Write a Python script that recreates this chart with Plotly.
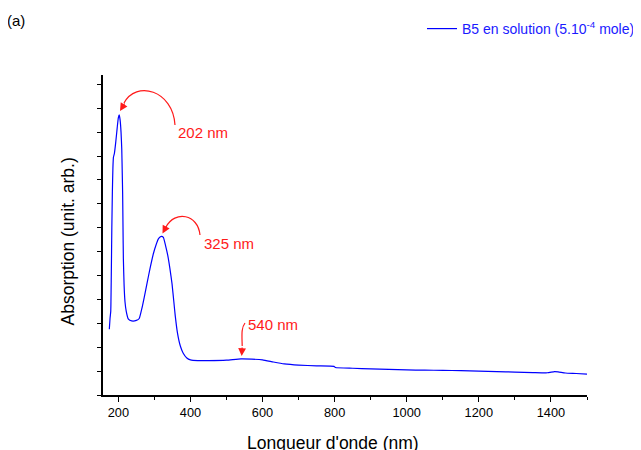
import plotly.graph_objects as go

# ---- data ----
wavelength = [175, 177, 179, 180.5, 182, 183.5, 185, 186.5, 189, 193, 197, 200, 202.5, 205,
              207.5, 209.5, 211, 212, 213, 214, 216, 218.5, 222, 228, 237, 250, 258, 265,
              272, 280, 288, 297, 305, 312, 319, 325, 331, 337, 343, 349, 354, 358, 364,
              372, 380, 390, 400, 420, 450, 500, 540, 570, 600, 630, 660, 700, 750, 798,
              802, 850, 900, 950, 1000, 1050, 1100, 1150, 1200, 1250, 1300, 1350, 1390,
              1410, 1420, 1440, 1470, 1500]
absorption = [2.75, 3.2, 3.5, 5.0, 7.0, 8.5, 9.5, 9.95, 10.1, 10.6, 11.2, 11.6, 11.72, 11.5,
              11.0, 10.3, 9.2, 8.4, 7.0, 5.7, 4.6, 3.9, 3.5, 3.17, 3.1, 3.12, 3.2, 3.6,
              4.1, 4.7, 5.3, 5.9, 6.3, 6.55, 6.64, 6.6, 6.25, 5.85, 5.3, 4.65, 3.9, 3.3, 2.6,
              2.05, 1.75, 1.55, 1.47, 1.44, 1.44, 1.46, 1.51, 1.50, 1.47, 1.38, 1.30, 1.25, 1.22, 1.20,
              1.15, 1.12, 1.09, 1.07, 1.05, 1.04, 1.03, 1.02, 1.00, 0.98, 0.96, 0.94, 0.93,
              0.98, 0.97, 0.92, 0.90, 0.87]
series_name = "B5 en solution (5.10<sup>-4</sup> mole)"
peak_labels = ["202 nm", "325 nm", "540 nm"]
x_ticks = [200, 400, 600, 800, 1000, 1200, 1400]

# page offset (browser body margin) and plot-area box in window pixels
OFF = 8
WIN_W, WIN_H = 641, 450
L, R, T, B = 103, 587, 75, 395
W, H = WIN_W - OFF, WIN_H - OFF

def px(x):
    return (x - L) / (R - L)

def py(y):
    return (B - y) / (B - T)

FONT = "Arial, Liberation Sans, sans-serif"
RED = "#ff1a1a"
BLUE = "#1a1aff"

fig = go.Figure()
fig.add_trace(go.Scatter(
    x=wavelength, y=absorption, mode="lines", name=series_name,
    line=dict(color="#0000ff", width=1.2, shape="spline", smoothing=0.4),
))

def bez(pts):
    (x0, y0), (x1, y1), (x2, y2), (x3, y3) = pts
    return (f"M {px(x0)},{py(y0)} C {px(x1)},{py(y1)} {px(x2)},{py(y2)} {px(x3)},{py(y3)}")

arrows = [
    [(175, 125), (173, 90), (136, 80), (124, 103)],
    [(200, 235), (198, 214), (175, 210), (166, 227)],
    [(245, 323), (241, 328), (242, 336), (242.2, 346)],
]
heads = [((120, 111), 5.5, -9), ((162.5, 233.5), 4.5, -8.5), ((241.7, 356), 0.5, -10)]
text_pos = [(203, 132), (229, 243), (272.7, 324.5)]

shapes = []
annotations = []
for pts in arrows:
    shapes.append(dict(type="path", path=bez(pts), xref="paper", yref="paper",
                       line=dict(color=RED, width=1.2)))
for (tx, ty), ax, ay in heads:
    annotations.append(dict(x=px(tx), y=py(ty), xref="paper", yref="paper", text="",
                            showarrow=True, ax=ax, ay=ay, arrowhead=2, arrowsize=1.3,
                            arrowwidth=1.2, arrowcolor=RED, standoff=0))
for lab, (tx, ty) in zip(peak_labels, text_pos):
    annotations.append(dict(x=px(tx), y=py(ty), xref="paper", yref="paper", text=lab,
                            showarrow=False, font=dict(family=FONT, size=15, color=RED),
                            xanchor="center", yanchor="middle"))

annotations.append(dict(x=px(333), y=py(443), xref="paper", yref="paper",
                        text="Longueur d'onde (nm)", showarrow=False,
                        font=dict(family=FONT, size=17.5, color="black"),
                        xanchor="center", yanchor="middle"))
annotations.append(dict(x=px(67), y=py(241.5), xref="paper", yref="paper",
                        text="Absorption (unit. arb.)", showarrow=False, textangle=-90,
                        font=dict(family=FONT, size=17.5, color="black"),
                        xanchor="center", yanchor="middle"))
annotations.append(dict(x=px(16), y=py(20), xref="paper", yref="paper",
                        text="(a)", showarrow=False,
                        font=dict(family=FONT, size=15, color="black"),
                        xanchor="center", yanchor="middle"))

fig.update_layout(
    width=W, height=H,
    margin=dict(l=L - OFF, r=WIN_W - R, t=T - OFF, b=WIN_H - B, autoexpand=False),
    paper_bgcolor="white", plot_bgcolor="white",
    font=dict(family=FONT, color="black"),
    showlegend=True,
    legend=dict(x=px(422), y=py(29), xanchor="left", yanchor="middle",
                font=dict(family=FONT, size=14, color=BLUE),
                bgcolor="rgba(0,0,0,0)", borderwidth=0),
    shapes=shapes, annotations=annotations,
)
fig.update_xaxes(
    range=[157.5, 1500], tickvals=x_ticks, ticks="outside", ticklen=5, tickwidth=1,
    tickcolor="black", showline=True, linecolor="black", linewidth=1.5,
    showgrid=False, zeroline=False, tickfont=dict(family=FONT, size=12.8, color="black"),
    minor=dict(dtick=100, tick0=0, ticks="outside", ticklen=3, tickwidth=1, tickcolor="black"),
)
fig.update_yaxes(
    range=[0, (B - T) / 23.9], tick0=0, dtick=1, ticks="outside", ticklen=4, tickwidth=1,
    tickcolor="black", showticklabels=False, showline=True, linecolor="black",
    linewidth=1.5, showgrid=False, zeroline=False,
)

fig.write_html("out.html")
